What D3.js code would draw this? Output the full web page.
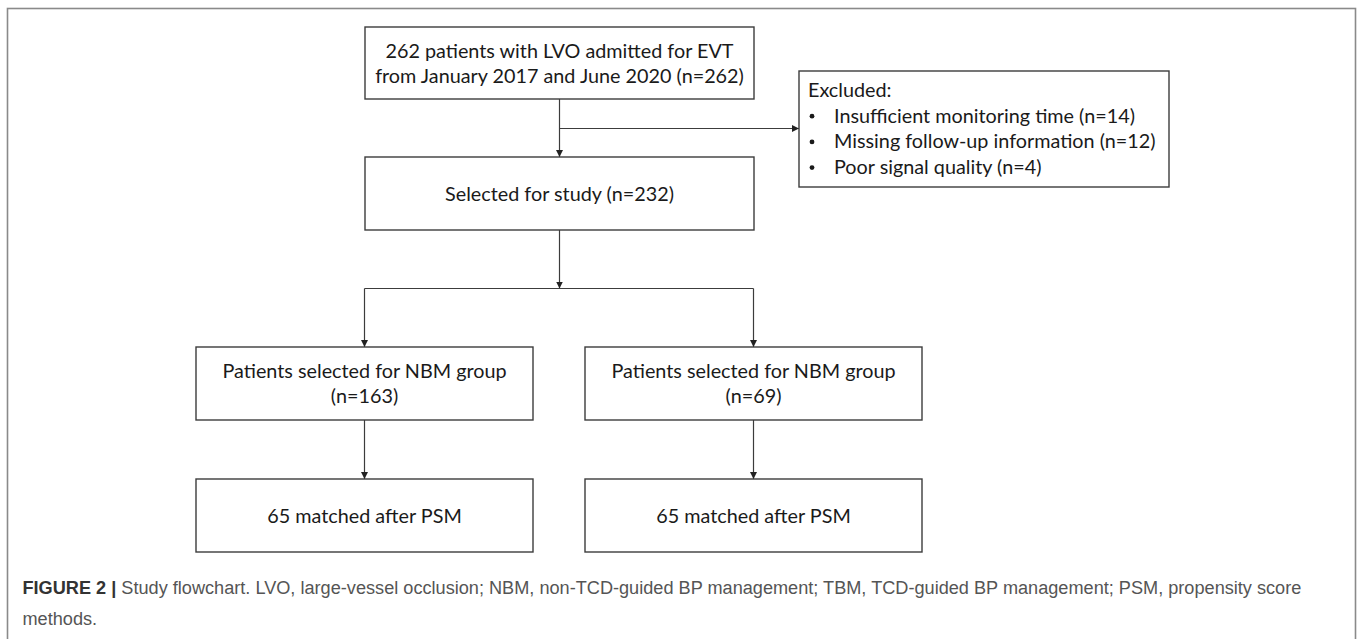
<!DOCTYPE html>
<html>
<head>
<meta charset="utf-8">
<script src="https://cdn.jsdelivr.net/npm/d3@7"></script>
<style>
  html, body { margin: 0; padding: 0; background: #fff; }
  svg { display: block; }
</style>
</head>
<body>
<svg id="chart" width="1357" height="639"></svg>
<script>
// ---- data ----
const topBoxLines = ["262 patients with LVO admitted for EVT", "from January 2017 and June 2020 (n=262)"];
const excludedTitle = "Excluded:";
const excludedItems = ["Insufficient monitoring time (n=14)", "Missing follow-up information (n=12)", "Poor signal quality (n=4)"];
const selectedLines = ["Selected for study (n=232)"];
const groupLines = [
  ["Patients selected for NBM group", "(n=163)"],
  ["Patients selected for NBM group", "(n=69)"]
];
const matchedLines = [["65 matched after PSM"], ["65 matched after PSM"]];
const captionBold = "FIGURE 2 |";
const captionLines = [
  " Study flowchart. LVO, large-vessel occlusion; NBM, non-TCD-guided BP management; TBM, TCD-guided BP management; PSM, propensity score",
  "methods."
];

// ---- layout ----
const W = 1357, H = 639;
const svg = d3.select("#chart");
const stroke = "#3c3c3c";
const boxFont = "Lato, 'Open Sans', sans-serif";
const boxFontSize = 19.8;
const lineH = 25;

// column scale for the two group branches
const col = d3.scalePoint().domain([0, 1]).range([364.5, 753.5]);
const groupW = 337;
const mainX0 = 365, mainX1 = 754;
const mainCx = (mainX0 + mainX1) / 2;

// row scale (top edges of rows)
const rowTop = d3.scaleOrdinal().domain(["top", "selected", "group", "matched"]).range([27, 157, 347, 479]);
const rowH = d3.scaleOrdinal().domain(["top", "selected", "group", "matched"]).range([72, 73, 73, 73]);

const defs = svg.append("defs");
defs.append("marker")
  .attr("id", "arrow")
  .attr("viewBox", "0 0 10 10")
  .attr("refX", 10).attr("refY", 5)
  .attr("markerWidth", 7).attr("markerHeight", 7)
  .attr("markerUnits", "userSpaceOnUse")
  .attr("orient", "auto")
  .append("path").attr("d", "M0,0 L10,5 L0,10 Z").attr("fill", "#222");

// outer frame
svg.append("rect")
  .attr("x", 7.5).attr("y", 8.5)
  .attr("width", 1348).attr("height", 700)
  .attr("fill", "none").attr("stroke", "#8a8a8a").attr("stroke-width", 1.6);

function box(x0, y0, w, h, lines) {
  const g = svg.append("g");
  g.append("rect").attr("x", x0).attr("y", y0).attr("width", w).attr("height", h)
    .attr("fill", "#fff").attr("stroke", stroke).attr("stroke-width", 1.4);
  const cy = y0 + h / 2;
  const n = lines.length;
  g.selectAll("text").data(lines).join("text")
    .attr("x", x0 + w / 2)
    .attr("y", (d, i) => cy + (i - (n - 1) / 2) * lineH)
    .attr("dy", "0.36em")
    .attr("text-anchor", "middle")
    .attr("font-family", boxFont)
    .attr("font-size", boxFontSize)
    .attr("fill", "#1a1a1a")
    .text(d => d);
  return g;
}

function line(points, arrow) {
  svg.append("path")
    .attr("d", d3.line()(points))
    .attr("fill", "none").attr("stroke", stroke).attr("stroke-width", 1.2)
    .attr("marker-end", arrow ? "url(#arrow)" : null);
}

// connectors
const topBottom = rowTop("top") + rowH("top");
const selTop = rowTop("selected");
const selBottom = selTop + rowH("selected");
const exclX0 = 799, exclX1 = 1169, exclY0 = 71, exclY1 = 187;
const branchY = 128.5;
const splitY = 288.5;

line([[mainCx, topBottom], [mainCx, selTop]], true);
line([[mainCx, branchY], [exclX0, branchY]], true);
line([[mainCx, selBottom], [mainCx, splitY]], true);
line([[col(0), splitY], [col(1), splitY]], false);
[0, 1].forEach(i => {
  line([[col(i), splitY], [col(i), rowTop("group")]], true);
  line([[col(i), rowTop("group") + rowH("group")], [col(i), rowTop("matched")]], true);
});

// boxes
box(mainX0, rowTop("top"), mainX1 - mainX0, rowH("top"), topBoxLines);
box(mainX0, selTop, mainX1 - mainX0, rowH("selected"), selectedLines);
groupLines.forEach((ls, i) => box(col(i) - groupW / 2, rowTop("group"), groupW, rowH("group"), ls));
matchedLines.forEach((ls, i) => box(col(i) - groupW / 2, rowTop("matched"), groupW, rowH("matched"), ls));

// excluded box
const ex = svg.append("g");
ex.append("rect").attr("x", exclX0).attr("y", exclY0).attr("width", exclX1 - exclX0).attr("height", exclY1 - exclY0)
  .attr("fill", "#fff").attr("stroke", stroke).attr("stroke-width", 1.4);
const exRow = d3.scaleLinear().domain([0, 1]).range([97, 122.7]);
ex.append("text").attr("x", 808).attr("y", exRow(0))
  .attr("font-family", boxFont).attr("font-size", boxFontSize).attr("fill", "#1a1a1a").text(excludedTitle);
ex.selectAll("text.item").data(excludedItems).join("text").attr("class", "item")
  .attr("x", 834).attr("y", (d, i) => exRow(i + 1))
  .attr("font-family", boxFont).attr("font-size", boxFontSize).attr("fill", "#1a1a1a").text(d => d);
ex.selectAll("circle").data(excludedItems).join("circle")
  .attr("cx", 812).attr("cy", (d, i) => exRow(i + 1) - 6.5)
  .attr("r", 2.4).attr("fill", "#1a1a1a");

// caption
const capFont = "'Liberation Sans', Arial, Helvetica, sans-serif";
const capSize = 18.15;
const cap1 = svg.append("text").attr("x", 22.5).attr("y", 594)
  .attr("font-family", capFont).attr("font-size", capSize).attr("fill", "#555");
cap1.append("tspan").attr("font-weight", "bold").attr("fill", "#333").text(captionBold);
cap1.append("tspan").text(captionLines[0]);
svg.append("text").attr("x", 22.5).attr("y", 625)
  .attr("font-family", capFont).attr("font-size", capSize).attr("fill", "#555").text(captionLines[1]);
</script>
</body>
</html>
